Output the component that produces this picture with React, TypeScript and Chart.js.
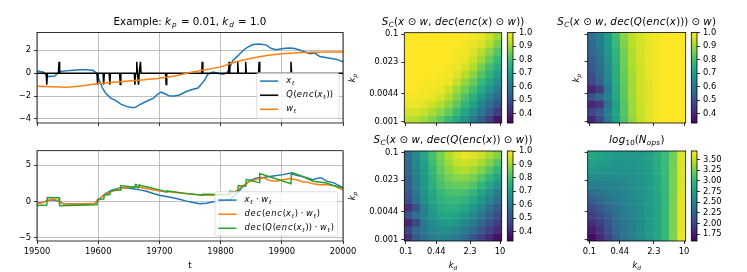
import React, { useEffect, useRef } from 'react';
import { Chart, registerables } from 'chart.js';

Chart.register(...registerables);

const W = 747;
const H = 272;
const FF = '"DejaVu Sans", "Liberation Sans", Arial, sans-serif';
const FS = 8.33;
const FS_TITLE = 10.3;

Chart.defaults.font.family = FF;
Chart.defaults.font.size = FS;
Chart.defaults.color = '#000';

// ---------------- line panel data ----------------
const T_MIN = 19500;
const T_MAX = 20000;
const T_TICKS = [19500, 19600, 19700, 19800, 19900, 20000];
const TOP_Y_TICKS = [-4, -2, 0, 2];
const BOT_Y_TICKS = [-5, 0, 5];

const XT_TIME = [19500, 19510, 19518, 19529, 19537, 19548, 19559, 19570, 19580, 19591, 19598, 19602, 19607, 19613, 19621, 19629, 19637, 19646, 19654, 19660, 19668, 19679, 19690, 19698, 19703, 19709, 19717, 19725, 19733, 19744, 19755, 19763, 19768, 19774, 19779, 19788, 19796, 19803, 19810, 19815, 19820, 19829, 19837, 19845, 19853, 19864, 19875, 19883, 19891, 19902, 19913, 19921, 19930, 19946, 19954, 19962, 19979, 19990, 20000];
const XT_VALUE = [0.18, 0.1, -0.3, -0.25, 0.15, 0.2, 0.25, 0.3, 0.3, 0.25, 0.0, -0.65, -1.3, -1.8, -2.2, -2.4, -2.7, -2.9, -3.0, -3.0, -2.75, -2.45, -2.2, -1.8, -1.65, -1.8, -2.0, -2.0, -1.9, -1.6, -1.4, -1.3, -1.0, -0.6, -0.1, 0.1, 0.0, -0.1, 0.0, 0.5, 1.1, 1.55, 2.0, 2.3, 2.5, 2.55, 2.45, 2.15, 2.05, 2.15, 2.2, 2.15, 2.0, 1.7, 1.75, 1.45, 1.3, 1.2, 1.0];

const WT_TIME = [19500, 19525, 19550, 19575, 19600, 19625, 19650, 19675, 19700, 19725, 19750, 19775, 19800, 19825, 19850, 19875, 19900, 19925, 19950, 19975, 20000];
const WT_VALUE = [-1.15, -1.18, -1.22, -1.1, -0.9, -0.8, -0.68, -0.58, -0.45, -0.25, 0.05, 0.3, 0.55, 1.0, 1.3, 1.55, 1.7, 1.78, 1.82, 1.85, 1.85];

const Q_SPIKE_TIME = [19516, 19536, 19599, 19609, 19619, 19636, 19660, 19663, 19666, 19669, 19711, 19770, 19814, 19828, 19841, 19863, 19915];
const Q_SPIKE_SIGN = [-1, 1, -1, -1, -1, -1, -1, 1, -1, 1, -1, 1, 1, 1, 1, 1, 1];

const XW_TIME = [19500, 19510, 19518, 19526, 19534, 19543, 19559, 19580, 19594, 19600, 19605, 19613, 19624, 19635, 19646, 19657, 19668, 19679, 19690, 19700, 19711, 19722, 19733, 19744, 19755, 19766, 19777, 19788, 19799, 19815, 19826, 19837, 19848, 19859, 19870, 19886, 19902, 19913, 19924, 19935, 19951, 19960, 19965, 19973, 19984, 20000];
const XW_VALUE = [-0.25, -0.1, 0.15, 0.25, 0.05, -0.3, -0.35, -0.4, -0.3, 0.15, 0.6, 1.15, 1.6, 1.85, 1.9, 1.75, 1.6, 1.4, 1.1, 0.85, 0.7, 0.5, 0.3, 0.05, -0.15, -0.3, -0.25, -0.05, 0.0, 0.25, 1.05, 2.1, 2.9, 3.25, 3.3, 3.5, 3.7, 3.9, 3.6, 3.4, 3.0, 3.25, 3.25, 2.8, 2.6, 1.9];

const DEC_TIME = [19500, 19510, 19518, 19526, 19534, 19540, 19550, 19570, 19595, 19600, 19610, 19620, 19635, 19650, 19665, 19680, 19700, 19720, 19740, 19760, 19780, 19800, 19815, 19826, 19837, 19848, 19859, 19870, 19880, 19891, 19902, 19913, 19924, 19935, 19940, 19951, 19962, 19973, 19984, 20000];
const DEC_VALUE = [-0.3, -0.15, 0.15, 0.35, 0.15, -0.25, -0.35, -0.35, -0.25, 0.25, 0.9, 1.3, 1.75, 2.0, 2.0, 1.75, 1.45, 1.3, 1.1, 0.95, 0.85, 0.9, 1.05, 1.5, 2.2, 2.8, 3.05, 3.25, 2.9, 2.8, 3.0, 3.15, 3.0, 2.7, 2.7, 2.45, 2.3, 2.3, 2.2, 1.6];

const DECQ_TIME = [19500, 19516, 19517, 19536, 19537, 19598, 19599, 19609, 19610, 19619, 19620, 19636, 19637, 19660, 19661, 19663, 19664, 19666, 19667, 19669, 19680, 19700, 19711, 19712, 19740, 19770, 19771, 19800, 19814, 19815, 19828, 19829, 19841, 19842, 19863, 19864, 19915, 19916, 19930, 19951, 19973, 19984, 20000];
const DECQ_VALUE = [-0.55, -0.5, 0.55, 0.5, -0.6, -0.45, 0.3, 0.35, 0.9, 0.95, 1.5, 1.55, 2.2, 1.95, 2.35, 2.3, 1.95, 1.9, 2.3, 2.2, 2.0, 1.6, 1.3, 1.45, 1.15, 0.85, 1.0, 0.95, 0.9, 1.4, 1.3, 2.2, 2.1, 3.05, 2.6, 3.85, 2.45, 4.0, 3.6, 2.8, 2.55, 2.2, 1.85];

// ---------------- heatmap data (rows: k_p from 0.1 down to 0.001; cols: k_d from 0.1 to 10) ----------------
const KD_TICKS = [0.1, 0.44, 2.3, 10];
const KD_LABELS = ['0.1', '0.44', '2.3', '10'];
const KP_TICKS = [0.1, 0.023, 0.0044, 0.001];
const KP_LABELS = ['0.1', '0.023', '0.0044', '0.001'];
const SIM_TICKS = [0.4, 0.5, 0.6, 0.7, 0.8, 0.9, 1.0];
const OPS_TICKS = [1.75, 2.0, 2.25, 2.5, 2.75, 3.0, 3.25, 3.5];

const SIM_ENC = [
  [1.00, 1.00, 1.00, 1.00, 1.00, 1.00, 1.00, 1.00, 0.99, 0.98, 0.95, 0.90],
  [1.00, 1.00, 1.00, 1.00, 1.00, 1.00, 1.00, 0.99, 0.98, 0.96, 0.92, 0.86],
  [1.00, 1.00, 1.00, 1.00, 1.00, 1.00, 0.99, 0.99, 0.97, 0.93, 0.88, 0.82],
  [1.00, 1.00, 1.00, 1.00, 1.00, 1.00, 0.99, 0.98, 0.95, 0.90, 0.84, 0.78],
  [1.00, 1.00, 1.00, 1.00, 1.00, 0.99, 0.98, 0.96, 0.92, 0.86, 0.80, 0.74],
  [1.00, 1.00, 1.00, 1.00, 0.99, 0.99, 0.97, 0.93, 0.88, 0.82, 0.76, 0.70],
  [1.00, 1.00, 1.00, 0.99, 0.99, 0.98, 0.94, 0.89, 0.84, 0.78, 0.72, 0.66],
  [1.00, 1.00, 0.99, 0.99, 0.98, 0.95, 0.90, 0.85, 0.80, 0.73, 0.67, 0.61],
  [0.99, 0.99, 0.99, 0.98, 0.96, 0.92, 0.87, 0.81, 0.75, 0.69, 0.62, 0.56],
  [0.98, 0.98, 0.97, 0.95, 0.92, 0.88, 0.83, 0.77, 0.71, 0.64, 0.57, 0.51],
  [0.96, 0.96, 0.94, 0.91, 0.88, 0.84, 0.78, 0.72, 0.66, 0.59, 0.52, 0.45],
  [0.93, 0.92, 0.90, 0.87, 0.83, 0.78, 0.73, 0.67, 0.60, 0.53, 0.46, 0.37],
];

const SIM_Q_AFTER = [
  [0.57, 0.62, 0.70, 0.79, 0.88, 0.93, 0.96, 0.98, 0.99, 1.00, 1.00, 1.00],
  [0.56, 0.61, 0.69, 0.78, 0.87, 0.93, 0.96, 0.98, 0.99, 1.00, 1.00, 1.00],
  [0.55, 0.60, 0.68, 0.77, 0.86, 0.92, 0.96, 0.98, 0.99, 1.00, 1.00, 1.00],
  [0.53, 0.58, 0.67, 0.76, 0.85, 0.92, 0.96, 0.98, 0.99, 1.00, 1.00, 1.00],
  [0.52, 0.57, 0.66, 0.75, 0.85, 0.92, 0.95, 0.98, 0.99, 1.00, 1.00, 1.00],
  [0.50, 0.56, 0.65, 0.75, 0.84, 0.91, 0.95, 0.98, 0.99, 1.00, 1.00, 1.00],
  [0.48, 0.54, 0.64, 0.74, 0.84, 0.91, 0.95, 0.97, 0.99, 1.00, 1.00, 1.00],
  [0.40, 0.45, 0.60, 0.73, 0.83, 0.91, 0.95, 0.97, 0.99, 1.00, 1.00, 1.00],
  [0.50, 0.55, 0.63, 0.73, 0.83, 0.90, 0.95, 0.97, 0.99, 1.00, 1.00, 1.00],
  [0.40, 0.44, 0.58, 0.71, 0.82, 0.90, 0.95, 0.97, 0.99, 1.00, 1.00, 1.00],
  [0.47, 0.52, 0.62, 0.72, 0.82, 0.90, 0.94, 0.97, 0.99, 1.00, 1.00, 1.00],
  [0.40, 0.48, 0.60, 0.70, 0.81, 0.89, 0.94, 0.97, 0.99, 1.00, 1.00, 1.00],
];

const SIM_Q = [
  [0.57, 0.65, 0.72, 0.80, 0.86, 0.92, 0.96, 0.98, 0.97, 0.95, 0.91, 0.87],
  [0.56, 0.64, 0.71, 0.79, 0.85, 0.90, 0.94, 0.95, 0.94, 0.91, 0.87, 0.82],
  [0.55, 0.63, 0.70, 0.77, 0.84, 0.88, 0.91, 0.92, 0.90, 0.87, 0.82, 0.77],
  [0.54, 0.62, 0.69, 0.76, 0.82, 0.86, 0.88, 0.88, 0.86, 0.82, 0.77, 0.72],
  [0.53, 0.61, 0.68, 0.75, 0.80, 0.83, 0.84, 0.84, 0.82, 0.77, 0.72, 0.67],
  [0.51, 0.60, 0.67, 0.73, 0.78, 0.80, 0.81, 0.80, 0.77, 0.72, 0.67, 0.62],
  [0.49, 0.58, 0.66, 0.72, 0.76, 0.78, 0.78, 0.76, 0.73, 0.68, 0.63, 0.57],
  [0.42, 0.50, 0.63, 0.70, 0.74, 0.75, 0.75, 0.73, 0.69, 0.64, 0.58, 0.53],
  [0.50, 0.57, 0.63, 0.68, 0.72, 0.73, 0.72, 0.69, 0.65, 0.60, 0.54, 0.49],
  [0.40, 0.48, 0.60, 0.66, 0.69, 0.70, 0.68, 0.65, 0.61, 0.55, 0.50, 0.45],
  [0.47, 0.55, 0.60, 0.64, 0.66, 0.66, 0.64, 0.61, 0.56, 0.51, 0.46, 0.41],
  [0.42, 0.52, 0.58, 0.62, 0.63, 0.62, 0.60, 0.56, 0.51, 0.46, 0.41, 0.36],
];

const LOG_OPS = [
  [2.86, 2.81, 2.77, 2.73, 2.71, 2.71, 2.73, 2.79, 2.88, 3.02, 3.24, 3.59],
  [2.79, 2.75, 2.73, 2.69, 2.69, 2.69, 2.71, 2.79, 2.88, 3.02, 3.24, 3.59],
  [2.71, 2.69, 2.67, 2.65, 2.65, 2.67, 2.71, 2.77, 2.88, 3.02, 3.26, 3.59],
  [2.60, 2.60, 2.60, 2.60, 2.62, 2.65, 2.69, 2.77, 2.86, 3.02, 3.26, 3.59],
  [2.48, 2.50, 2.52, 2.54, 2.58, 2.62, 2.67, 2.75, 2.86, 3.00, 3.26, 3.59],
  [2.35, 2.39, 2.46, 2.50, 2.54, 2.60, 2.67, 2.75, 2.86, 3.00, 3.26, 3.59],
  [2.22, 2.29, 2.37, 2.46, 2.52, 2.58, 2.65, 2.73, 2.83, 3.00, 3.26, 3.62],
  [2.10, 2.18, 2.29, 2.39, 2.48, 2.56, 2.62, 2.73, 2.83, 3.00, 3.28, 3.62],
  [1.99, 2.10, 2.22, 2.35, 2.46, 2.54, 2.62, 2.73, 2.83, 3.00, 3.28, 3.62],
  [1.86, 1.99, 2.16, 2.31, 2.41, 2.52, 2.60, 2.71, 2.83, 3.00, 3.28, 3.62],
  [1.76, 1.91, 2.10, 2.27, 2.39, 2.50, 2.60, 2.71, 2.83, 3.00, 3.28, 3.62],
  [1.65, 1.82, 2.03, 2.22, 2.37, 2.50, 2.60, 2.71, 2.83, 3.00, 3.28, 3.64],
];

// ---------------- helpers ----------------
const VIRIDIS = ['#440154', '#482878', '#3e4989', '#31688e', '#26828e', '#1f9e89', '#35b779', '#6ece58', '#b5de2b', '#fde725'];
function hexRgb(h: string) {
  return [parseInt(h.slice(1, 3), 16), parseInt(h.slice(3, 5), 16), parseInt(h.slice(5, 7), 16)];
}
function viridis(t: number) {
  const tt = Math.max(0, Math.min(1, t));
  const p = tt * 9;
  const i = Math.min(8, Math.floor(p));
  const f = p - i;
  const a = hexRgb(VIRIDIS[i]);
  const b = hexRgb(VIRIDIS[i + 1]);
  const c = a.map((v, k) => Math.round(v + (b[k] - v) * f));
  return `rgb(${c[0]},${c[1]},${c[2]})`;
}
// positions of log-spaced ticks in a 30-cell image, as fraction of axis
function kdPos(k: number) {
  return (0.5 + ((Math.log10(k) + 1) / 2) * 29) / 30;
}
function kpPos(k: number) {
  return 1 - (0.5 + ((-1 - Math.log10(k)) / 2) * 29) / 30;
}
function fmtMinus(v: number) {
  return v < 0 ? '\u2212' + String(Math.abs(v)) : String(v);
}
function pts(ts: number[], vs: number[]) {
  return ts.map((t, i) => ({ x: t, y: vs[i] }));
}

type Seg = { t: string; it: boolean; sub: boolean };
function parseRich(s: string): Seg[] {
  const segs: Seg[] = [];
  let inMath = false;
  let i = 0;
  while (i < s.length) {
    const ch = s[i];
    if (ch === '$') { inMath = !inMath; i++; continue; }
    if (inMath && ch === '_') {
      let grp = '';
      if (s[i + 1] === '{') {
        const j = s.indexOf('}', i + 2);
        grp = s.slice(i + 2, j);
        i = j + 1;
      } else {
        grp = s[i + 1];
        i += 2;
      }
      for (const c of grp) segs.push({ t: c, it: /[A-Za-z]/.test(c), sub: true });
      continue;
    }
    segs.push({ t: ch, it: inMath && /[A-Za-z]/.test(ch), sub: false });
    i++;
  }
  return segs;
}
function drawRich(ctx: CanvasRenderingContext2D, str: string, x: number, y: number, size: number, align: string, rot = 0, spacing = 0) {
  const segs = parseRich(str);
  const fontOf = (sg: Seg) => `${sg.it ? 'italic ' : ''}${sg.sub ? size * 0.7 : size}px ${FF}`;
  let total = 0;
  const widths = segs.map((sg) => {
    ctx.font = fontOf(sg);
    const w = ctx.measureText(sg.t).width + (sg.it ? spacing * size : 0);
    total += w;
    return w;
  });
  ctx.save();
  ctx.translate(x, y);
  if (rot) ctx.rotate(rot);
  let cx = align === 'left' ? 0 : align === 'right' ? -total : -total / 2;
  ctx.fillStyle = '#000';
  ctx.textAlign = 'left';
  ctx.textBaseline = 'middle';
  segs.forEach((sg, k) => {
    ctx.font = fontOf(sg);
    ctx.fillText(sg.t, cx, sg.sub ? size * 0.3 : 0);
    cx += widths[k];
  });
  ctx.restore();
}

type TextItem = { s: string; x: number; y: number; size: number; align?: string; rot?: number; sp?: number };
function textPlugin(items: TextItem[]) {
  return {
    id: 'richTexts',
    afterDraw(chart: any) {
      const ctx = chart.ctx;
      items.forEach((it) => drawRich(ctx, it.s, it.x, it.y, it.size, it.align || 'center', it.rot || 0, it.sp || 0));
    },
  };
}
const framePlugin = {
  id: 'frame',
  afterDatasetsDraw(chart: any) {
    const { left, top, right, bottom } = chart.chartArea;
    const ctx = chart.ctx;
    ctx.save();
    ctx.strokeStyle = '#000';
    ctx.lineWidth = 0.8;
    ctx.strokeRect(left, top, right - left, bottom - top);
    ctx.restore();
  },
};
const gradientPlugin = {
  id: 'cbar',
  beforeDatasetsDraw(chart: any) {
    const { left, top, right, bottom } = chart.chartArea;
    const ctx = chart.ctx;
    const g = ctx.createLinearGradient(0, bottom, 0, top);
    VIRIDIS.forEach((c, i) => g.addColorStop(i / (VIRIDIS.length - 1), c));
    ctx.save();
    ctx.fillStyle = g;
    ctx.fillRect(left, top, right - left, bottom - top);
    ctx.restore();
  },
};
type Box = { l: number; t: number; r: number; b: number };
function legendPlugin(box: Box, rows: { label: string; color: string }[]) {
  return {
    id: 'mlegend',
    afterDraw(chart: any) {
      const ctx = chart.ctx;
      ctx.save();
      ctx.beginPath();
      ctx.roundRect(box.l, box.t, box.r - box.l, box.b - box.t, 2);
      ctx.fillStyle = 'rgba(255,255,255,0.8)';
      ctx.fill();
      ctx.strokeStyle = 'rgba(204,204,204,0.8)';
      ctx.lineWidth = 0.8;
      ctx.stroke();
      rows.forEach((row, i) => {
        const y = box.t + 8.4 + i * 14.1;
        ctx.strokeStyle = row.color;
        ctx.lineWidth = 1.5;
        ctx.beginPath();
        ctx.moveTo(box.l + 3.3, y);
        ctx.lineTo(box.l + 21.5, y);
        ctx.stroke();
        drawRich(ctx, row.label, box.l + 29.5, y, FS, 'left', 0, 0.1);
      });
      ctx.restore();
    },
  };
}

const BLUE = '#1f77b4';
const ORANGE = '#ff7f0e';
const GREEN = '#2ca02c';

function baseOpts(area: Box, yw: number, xh: number) {
  return {
    animation: false,
    responsive: false,
    devicePixelRatio: 1,
    events: [],
    layout: { padding: { left: area.l - yw, top: area.t, right: W - area.r, bottom: H - area.b - xh } },
    plugins: { legend: { display: false }, tooltip: { enabled: false }, title: { display: false } },
  };
}

function lineConfig(
  area: Box,
  datasets: any[],
  yMin: number,
  yMax: number,
  yTicks: number[],
  showX: boolean,
  legend: any,
  texts: TextItem[],
) {
  const YW = 30;
  const XH = showX ? 20 : 4;
  return {
    type: 'scatter',
    data: { datasets },
    options: {
      ...baseOpts(area, YW, XH),
      elements: { point: { radius: 0 }, line: { tension: 0 } },
      scales: {
        x: {
          type: 'linear',
          min: T_MIN,
          max: T_MAX,
          afterBuildTicks: (s: any) => { s.ticks = T_TICKS.map((v) => ({ value: v })); },
          afterFit: (s: any) => { s.height = XH; },
          ticks: { display: showX, autoSkip: false, maxRotation: 0, padding: 3, callback: (v: number) => String(v), font: { size: FS } },
          grid: { color: '#b0b0b0', lineWidth: 0.8, tickLength: 3, tickColor: '#000', tickWidth: 0.8 },
          border: { display: false },
        },
        y: {
          type: 'linear',
          min: yMin,
          max: yMax,
          afterBuildTicks: (s: any) => { s.ticks = yTicks.map((v) => ({ value: v })); },
          afterFit: (s: any) => { s.width = YW; },
          ticks: { autoSkip: false, padding: 3, callback: (v: number) => fmtMinus(v), font: { size: FS } },
          grid: { color: '#b0b0b0', lineWidth: 0.8, tickLength: 3, tickColor: '#000', tickWidth: 0.8 },
          border: { display: false },
        },
      },
    },
    plugins: [framePlugin, legend, textPlugin(texts)],
  };
}

function lineDs(data: any[], color: string, order: number) {
  return { data, borderColor: color, backgroundColor: color, borderWidth: 1.5, showLine: true, pointRadius: 0, order, fill: false };
}

function topLineConfig() {
  const qPoints: { x: number; y: number }[] = [{ x: T_MIN, y: 0 }];
  Q_SPIKE_TIME.forEach((t, i) => {
    qPoints.push({ x: t - 1, y: 0 }, { x: t, y: Q_SPIKE_SIGN[i] }, { x: t + 1, y: 0 });
  });
  qPoints.push({ x: T_MAX, y: 0 });
  return lineConfig(
    { l: 37, t: 32.5, r: 343, b: 123 },
    [
      lineDs(pts(XT_TIME, XT_VALUE), BLUE, 3),
      lineDs(qPoints, '#000000', 2),
      lineDs(pts(WT_TIME, WT_VALUE), ORANGE, 1),
    ],
    -4.35,
    3.55,
    TOP_Y_TICKS,
    false,
    legendPlugin({ l: 256.7, t: 72.7, r: 339, b: 118.3 }, [
      { label: '$x_t$', color: BLUE },
      { label: '$Q(enc(x_t))$', color: '#000000' },
      { label: '$w_t$', color: ORANGE },
    ]),
    [{ s: 'Example: $k_p = 0.01$, $k_d = 1.0$', x: 190, y: 22, size: FS_TITLE, sp: 0.1 }],
  );
}

function bottomLineConfig() {
  return lineConfig(
    { l: 37, t: 150.7, r: 343, b: 241 },
    [
      lineDs(pts(XW_TIME, XW_VALUE), BLUE, 3),
      lineDs(pts(DEC_TIME, DEC_VALUE), ORANGE, 2),
      lineDs(pts(DECQ_TIME, DECQ_VALUE), GREEN, 1),
    ],
    -5.45,
    7.0,
    BOT_Y_TICKS,
    true,
    legendPlugin({ l: 215, t: 191.7, r: 337.7, b: 236 }, [
      { label: '$x_t · w_t$', color: BLUE },
      { label: '$dec(enc(x_t) · w_t)$', color: ORANGE },
      { label: '$dec(Q(enc(x_t)) · w_t)$', color: GREEN },
    ]),
    [{ s: 't', x: 190, y: 266, size: FS }],
  );
}

function heatmapConfig(grid: number[][], vmin: number, vmax: number, area: Box, showX: boolean, showY: boolean, texts: TextItem[]) {
  const N = grid.length;
  const M = grid[0].length;
  const YW = 45;
  const XH = 20;
  return {
    type: 'bar',
    data: {
      datasets: grid.map((row, r) => ({
        data: row.map((_, c) => ({ x: (c + 0.5) / M, y: [1 - (r + 1) / N, 1 - r / N] })),
        backgroundColor: row.map((v) => viridis((v - vmin) / (vmax - vmin))),
        borderWidth: 0,
        grouped: false,
        barPercentage: 1,
        categoryPercentage: 1,
      })),
    },
    options: {
      ...baseOpts(area, YW, XH),
      scales: {
        x: {
          type: 'linear',
          min: 0,
          max: 1,
          offset: false,
          afterBuildTicks: (s: any) => { s.ticks = KD_TICKS.map((k) => ({ value: kdPos(k) })); },
          afterFit: (s: any) => { s.height = XH; },
          ticks: { display: showX, autoSkip: false, maxRotation: 0, padding: 3, callback: (_v: number, i: number) => KD_LABELS[i], font: { size: FS } },
          grid: { drawOnChartArea: false, drawTicks: true, tickLength: 3, tickColor: '#000', tickWidth: 0.8, offset: false },
          border: { display: false },
        },
        y: {
          type: 'linear',
          min: 0,
          max: 1,
          offset: false,
          afterBuildTicks: (s: any) => { s.ticks = KP_TICKS.map((k) => ({ value: kpPos(k) })); },
          afterFit: (s: any) => { s.width = YW; },
          ticks: { display: showY, autoSkip: false, padding: 3, callback: (_v: number, i: number) => KP_LABELS[i], font: { size: FS } },
          grid: { drawOnChartArea: false, drawTicks: true, tickLength: 3, tickColor: '#000', tickWidth: 0.8, offset: false },
          border: { display: false },
        },
      },
    },
    plugins: [framePlugin, textPlugin(texts)],
  };
}

function colorbarConfig(vmin: number, vmax: number, ticks: number[], digits: number, area: Box) {
  const YW = 32;
  return {
    type: 'scatter',
    data: { datasets: [] },
    options: {
      animation: false,
      responsive: false,
      devicePixelRatio: 1,
      events: [],
      layout: { padding: { left: area.l, top: area.t, right: W - area.r - YW, bottom: H - area.b } },
      plugins: { legend: { display: false }, tooltip: { enabled: false } },
      scales: {
        x: { display: false, min: 0, max: 1 },
        y: {
          position: 'right',
          min: vmin,
          max: vmax,
          afterBuildTicks: (s: any) => { s.ticks = ticks.map((v) => ({ value: v })); },
          afterFit: (s: any) => { s.width = YW; },
          ticks: { autoSkip: false, padding: 3, callback: (v: number) => v.toFixed(digits), font: { size: FS } },
          grid: { drawOnChartArea: false, drawTicks: true, tickLength: 3, tickColor: '#000', tickWidth: 0.8 },
          border: { display: false },
        },
      },
    },
    plugins: [gradientPlugin, framePlugin],
  };
}

const SIM_MIN = 0.33;
const SIM_MAX = 1.0;
const OPS_MIN = 1.59;
const OPS_MAX = 3.7;

const AREA_TM = { l: 404.3, t: 32.7, r: 501.7, b: 123 };
const AREA_TR = { l: 587.7, t: 32.5, r: 685.7, b: 123 };
const AREA_BM = { l: 404.3, t: 151, r: 501.7, b: 241 };
const AREA_BR = { l: 587.7, t: 151, r: 685.7, b: 241 };

const CONFIGS: (() => any)[] = [
  topLineConfig,
  bottomLineConfig,
  () => heatmapConfig(SIM_ENC, SIM_MIN, SIM_MAX, AREA_TM, false, true, [
    { s: '$S_C(x ⊙ w, dec(enc(x) ⊙ w))$', x: 453, y: 22, size: FS_TITLE, sp: 0.03 },
    { s: '$k_p$', x: 353, y: 78, size: FS, rot: -Math.PI / 2 },
  ]),
  () => heatmapConfig(SIM_Q_AFTER, SIM_MIN, SIM_MAX, AREA_TR, false, false, [
    { s: '$S_C(x ⊙ w, dec(Q(enc(x))) ⊙ w)$', x: 636.7, y: 22, size: FS_TITLE, sp: 0.03 },
    { s: '$k_p$', x: 576.7, y: 78, size: FS, rot: -Math.PI / 2 },
  ]),
  () => heatmapConfig(SIM_Q, SIM_MIN, SIM_MAX, AREA_BM, true, true, [
    { s: '$S_C(x ⊙ w, dec(Q(enc(x)) ⊙ w))$', x: 453, y: 140, size: FS_TITLE, sp: 0.03 },
    { s: '$k_p$', x: 353, y: 196, size: FS, rot: -Math.PI / 2 },
    { s: '$k_d$', x: 453, y: 266, size: FS },
  ]),
  () => heatmapConfig(LOG_OPS, OPS_MIN, OPS_MAX, AREA_BR, true, false, [
    { s: '$log_{10}(N_{ops})$', x: 636.7, y: 140, size: FS_TITLE, sp: 0.03 },
    { s: '$k_d$', x: 636.7, y: 266, size: FS },
  ]),
  () => colorbarConfig(SIM_MIN, SIM_MAX, SIM_TICKS, 1, { l: 507.3, t: 32.7, r: 513, b: 123 }),
  () => colorbarConfig(SIM_MIN, SIM_MAX, SIM_TICKS, 1, { l: 691.3, t: 32.5, r: 697, b: 123 }),
  () => colorbarConfig(SIM_MIN, SIM_MAX, SIM_TICKS, 1, { l: 507.3, t: 151, r: 513, b: 241 }),
  () => colorbarConfig(OPS_MIN, OPS_MAX, OPS_TICKS, 2, { l: 691.3, t: 151, r: 697, b: 241 }),
];

function Layer({ make }: { make: () => any }) {
  const ref = useRef<HTMLCanvasElement | null>(null);
  useEffect(() => {
    if (!ref.current) return;
    const chart = new Chart(ref.current, make());
    return () => chart.destroy();
  }, []);
  return (
    <canvas
      ref={ref}
      width={W}
      height={H}
      style={{ position: 'absolute', left: 0, top: 0, width: W + 'px', height: H + 'px' }}
    />
  );
}

export default function App() {
  return (
    <div style={{ position: 'absolute', left: 0, top: 0, width: W, height: H, background: '#fff', overflow: 'hidden' }}>
      {CONFIGS.map((make, i) => (
        <Layer key={i} make={make} />
      ))}
    </div>
  );
}
